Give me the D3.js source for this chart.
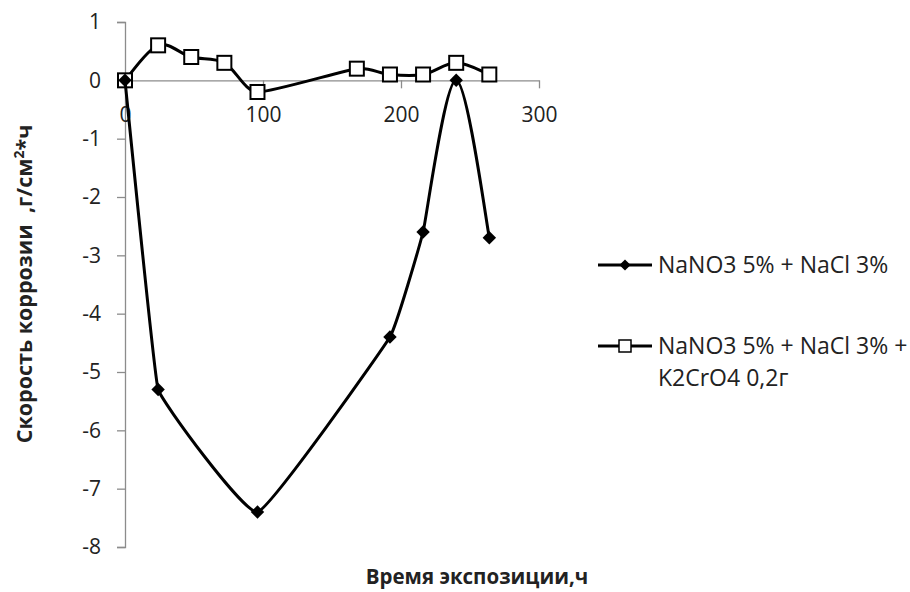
<!DOCTYPE html>
<html>
<head>
<meta charset="utf-8">
<script src="https://cdn.jsdelivr.net/npm/d3@7"></script>
<style>
  html, body { margin: 0; padding: 0; background: #fff; }
  svg { display: block; }
  text { font-family: "Open Sans", "DejaVu Sans", sans-serif; fill: #222; }
</style>
</head>
<body>
<svg id="chart" width="910" height="592"></svg>
<script>
// Exposure time (h) and corrosion rate for each solution
const hoursNitrate = [0, 24, 96, 192, 216, 240, 264];
const rateNitrate = [0, -5.3, -7.4, -4.4, -2.6, 0, -2.7];

const hoursChromate = [0, 24, 48, 72, 96, 168, 192, 216, 240, 264];
const rateChromate = [0, 0.6, 0.4, 0.3, -0.2, 0.2, 0.1, 0.1, 0.3, 0.1];

const seriesNames = ["NaNO3 5% + NaCl 3%", "NaNO3 5% + NaCl 3% +", "K2CrO4 0,2г"];

const xTicks = [0, 100, 200, 300];
const yTicks = [1, 0, -1, -2, -3, -4, -5, -6, -7, -8];

const svg = d3.select("#chart");

const x = d3.scaleLinear().domain([0, 300]).range([125, 539]);
const y = d3.scaleLinear().domain([-8, 1]).range([547, 22]);

const axisColor = "#8c8c8c";

// Y axis at x = 0
const yAxis = svg.append("g")
  .attr("transform", `translate(${x(0)},0)`)
  .call(d3.axisLeft(y).tickValues(yTicks).tickSize(8).tickPadding(16).tickFormat(d3.format("d")));
yAxis.select(".domain").attr("stroke", axisColor).attr("stroke-width", 1.3);
yAxis.selectAll(".tick line").attr("stroke", axisColor).attr("stroke-width", 1.3);
yAxis.selectAll(".tick text")
  .style("font-family", "'Open Sans', sans-serif")
  .attr("font-size", 21).attr("fill", "#222")
  .text(d => d < 0 ? "-" + Math.abs(d) : d);

// X axis at y = 0
const xAxis = svg.append("g")
  .attr("transform", `translate(0,${y(0)})`)
  .call(d3.axisBottom(x).tickValues(xTicks).tickSize(8).tickPadding(19).tickSizeOuter(0));
xAxis.select(".domain").attr("stroke", axisColor).attr("stroke-width", 1.3);
xAxis.selectAll(".tick line").attr("stroke", axisColor).attr("stroke-width", 1.3);
xAxis.selectAll(".tick text")
  .style("font-family", "'Open Sans', sans-serif")
  .attr("font-size", 21).attr("fill", "#222");

// Axis titles
svg.append("text")
  .attr("x", 477).attr("y", 584)
  .attr("text-anchor", "middle")
  .attr("font-size", 20.5).attr("font-weight", "bold")
  .text("Время экспозиции,ч");

const yTitle = svg.append("text")
  .attr("transform", "translate(32,284) rotate(-90)")
  .attr("text-anchor", "middle")
  .style("white-space", "pre")
  .attr("font-size", 21.5).attr("font-weight", "bold");
yTitle.append("tspan").text("Скорость коррозии  ,г/см");
yTitle.append("tspan").attr("font-size", 14).attr("dy", -8).text("2");
yTitle.append("tspan").attr("dy", 8).text("*ч");

// Smoothed line: cubic Bézier segments whose tangents follow the
// neighbouring points, with the handle length limited so long straight
// runs stay straight and corners stay crisp.
function smoothCapped(context) {
  const cap = 13;
  let pts;
  return {
    areaStart() {}, areaEnd() {},
    lineStart() { pts = []; },
    point(px, py) { pts.push([+px, +py]); },
    lineEnd() {
      const n = pts.length;
      if (!n) return;
      const tan = pts.map((p, i) => {
        const a = pts[Math.max(0, i - 1)], b = pts[Math.min(n - 1, i + 1)];
        let tx = (b[0] - a[0]) / 6, ty = (b[1] - a[1]) / 6;
        const len = Math.hypot(tx, ty);
        if (len > cap) { tx *= cap / len; ty *= cap / len; }
        return [tx, ty];
      });
      context.moveTo(pts[0][0], pts[0][1]);
      for (let i = 0; i < n - 1; i++) {
        const p0 = pts[i], p1 = pts[i + 1];
        context.bezierCurveTo(
          p0[0] + tan[i][0], p0[1] + tan[i][1],
          p1[0] - tan[i + 1][0], p1[1] - tan[i + 1][1],
          p1[0], p1[1]);
      }
    }
  };
}

const line = d3.line()
  .x(d => x(d[0]))
  .y(d => y(d[1]))
  .curve(smoothCapped);

const chromatePts = hoursChromate.map((h, i) => [h, rateChromate[i]]);
const nitratePts = hoursNitrate.map((h, i) => [h, rateNitrate[i]]);

svg.append("path").datum(chromatePts)
  .attr("d", line).attr("fill", "none")
  .attr("stroke", "#000").attr("stroke-width", 3);

svg.selectAll("rect.sq").data(chromatePts).join("rect")
  .attr("class", "sq")
  .attr("x", d => x(d[0]) - 7).attr("y", d => y(d[1]) - 7)
  .attr("width", 14).attr("height", 14)
  .attr("fill", "#fff").attr("stroke", "#000").attr("stroke-width", 2);

svg.append("path").datum(nitratePts)
  .attr("d", line).attr("fill", "none")
  .attr("stroke", "#000").attr("stroke-width", 3);

const diamond = d3.symbol().type(d3.symbolDiamond2).size(115);
svg.selectAll("path.dm").data(nitratePts).join("path")
  .attr("class", "dm")
  .attr("transform", d => `translate(${x(d[0])},${y(d[1])})`)
  .attr("d", diamond)
  .attr("fill", "#000");

// Legend
const legend = svg.append("g");
const legendRows = [
  { y: 265, marker: "diamond", lines: [seriesNames[0]] },
  { y: 346, marker: "square", lines: [seriesNames[1], seriesNames[2]] }
];
legendRows.forEach(r => {
  legend.append("line")
    .attr("x1", 598).attr("x2", 652).attr("y1", r.y).attr("y2", r.y)
    .attr("stroke", "#000").attr("stroke-width", 3);
  if (r.marker === "diamond") {
    legend.append("path")
      .attr("transform", `translate(625,${r.y})`)
      .attr("d", d3.symbol().type(d3.symbolDiamond2).size(80))
      .attr("fill", "#000");
  } else {
    legend.append("rect")
      .attr("x", 619).attr("y", r.y - 6).attr("width", 12).attr("height", 12)
      .attr("fill", "#fff").attr("stroke", "#000").attr("stroke-width", 1.5);
  }
  r.lines.forEach((t, i) => {
    legend.append("text")
      .attr("x", 658).attr("y", r.y + 8 + i * 32)
      .attr("font-size", 23)
      .text(t);
  });
});
</script>
</body>
</html>
